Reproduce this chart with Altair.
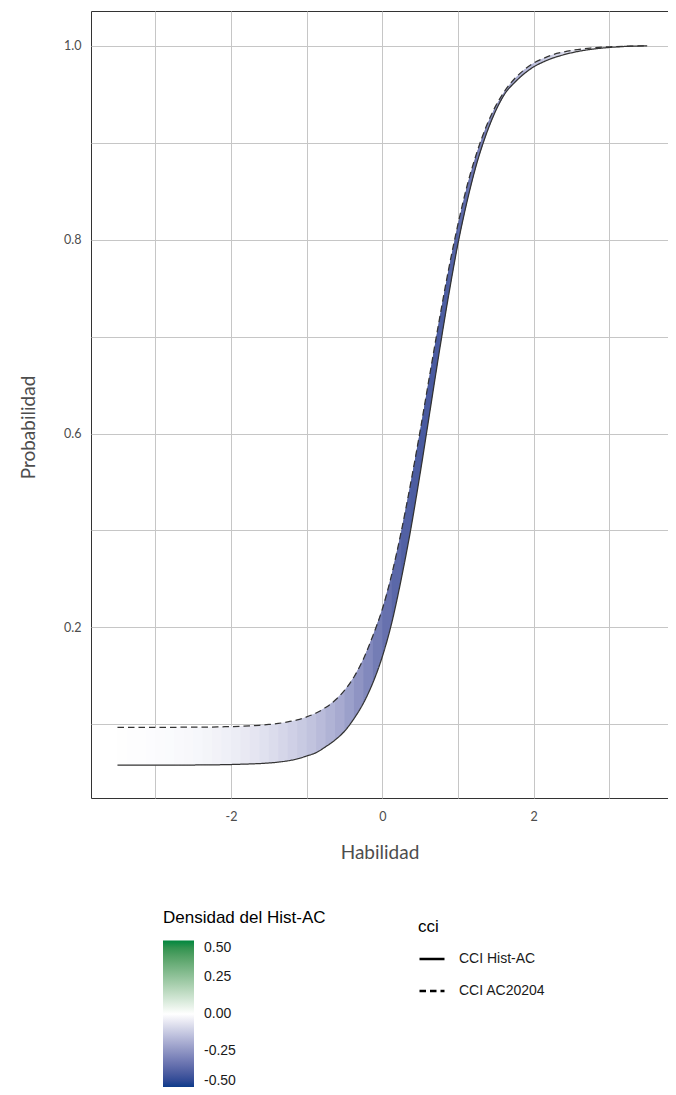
import altair as alt
import pandas as pd

# Habilidad (theta) grid
THETA = [-3.5, -3.375, -3.25, -3.125, -3.0, -2.875, -2.75, -2.625, -2.5, -2.375, -2.25,
         -2.125, -2.0, -1.875, -1.75, -1.625, -1.5, -1.375, -1.25, -1.125, -1.0,
         -0.875, -0.75, -0.625, -0.5, -0.375, -0.25, -0.125, 0.0, 0.125, 0.25,
         0.375, 0.5, 0.625, 0.75, 0.875, 1.0, 1.125, 1.25, 1.375, 1.5, 1.625,
         1.75, 1.875, 2.0, 2.125, 2.25, 2.375, 2.5, 2.75, 3.0, 3.25, 3.5]

# CCI Hist-AC (solid)
HIST = [0.258, 0.258, 0.258, 0.258, 0.258, 0.258, 0.258, 0.2581, 0.2582, 0.2583, 0.2584,
        0.2585, 0.2587, 0.2590, 0.2593, 0.2597, 0.2603, 0.2612, 0.2625, 0.2645, 0.2675,
        0.271, 0.277, 0.284, 0.293, 0.306, 0.322, 0.343, 0.370, 0.405, 0.450,
        0.501, 0.559, 0.621, 0.683, 0.742, 0.796, 0.841, 0.879, 0.909, 0.933, 0.951,
        0.962, 0.971, 0.978, 0.983, 0.987, 0.990, 0.9925, 0.996, 0.998, 0.9992, 0.9997]

# CCI AC20204 (dashed)
AC = [0.2970, 0.2970, 0.2970, 0.2970, 0.2971, 0.2971, 0.2971, 0.2972, 0.2972, 0.2973, 0.2974,
      0.2976, 0.2978, 0.2981, 0.2986, 0.2992, 0.3000, 0.3011, 0.3026, 0.3047, 0.3078,
      0.3118, 0.3174, 0.3249, 0.3351, 0.3490, 0.3675, 0.3915, 0.419, 0.455, 0.499,
      0.549, 0.603, 0.660, 0.716, 0.769, 0.816, 0.857, 0.890, 0.917, 0.938, 0.954,
      0.966, 0.975, 0.982, 0.9866, 0.9905, 0.9930, 0.995, 0.9974, 0.9987, 0.9993, 0.9996]

# Densidad del Hist-AC (fill colour between curves)
DENS = [-0.002, -0.003, -0.004, -0.005, -0.007, -0.009, -0.011, -0.014, -0.017, -0.021, -0.026,
        -0.032, -0.038, -0.046, -0.054, -0.064, -0.074, -0.087, -0.10, -0.115, -0.13,
        -0.148, -0.167, -0.188, -0.21, -0.24, -0.267, -0.298, -0.33, -0.358, -0.38,
        -0.395, -0.405, -0.41, -0.405, -0.395, -0.378, -0.355, -0.328, -0.297, -0.265, -0.233,
        -0.203, -0.176, -0.15, -0.127, -0.105, -0.087, -0.07, -0.045, -0.027, -0.015, -0.008]

SERIES = ["CCI Hist-AC", "CCI AC20204"]

X_GRID = [-3, -2, -1, 0, 1, 2, 3]
X_TICKS = [-2, 0, 2]
X_LABELS = ["-2", "0", "2"]
Y_GRID = [0.3, 0.4, 0.5, 0.6, 0.7, 0.8, 0.9, 1.0]
Y_TICKS = [0.4, 0.6, 0.8, 1.0]
Y_LABELS = ["0.2", "0.6", "0.8", "1.0"]
LEGEND_VALUES = [-0.5, -0.25, 0.0, 0.25, 0.5]

X_DOMAIN = [-3.85, 3.775]
Y_DOMAIN = [0.2242, 1.0356]

# ---- tables built from the arrays ----
# each band piece spans two intervals and is overdrawn by the next piece (no seams)
band_rows = []
n = len(THETA)
for i in range(n - 1):
    d = (DENS[i] + DENS[i + 1]) / 2
    for j in range(i, min(i + 3, n)):
        band_rows.append({"theta": THETA[j], "lo": HIST[j], "hi": AC[j], "dens": d,
                          "seg": f"s{i:03d}"})
band = pd.DataFrame(band_rows)

line_rows = []
for name, vals in zip(SERIES, [HIST, AC]):
    for t, v in zip(THETA, vals):
        line_rows.append({"theta": t, "p": v, "cci": name})
lines_df = pd.DataFrame(line_rows)


def label_expr(values, labels):
    expr = "''"
    for v, l in reversed(list(zip(values, labels))):
        expr = f"abs(datum.value - ({v})) < 1e-6 ? '{l}' : " + expr
    return expr


AX_FONT = "Lato"
AX_COLOR = "#4d4d4d"

x_axis = alt.Axis(values=X_GRID, labelExpr=label_expr(X_TICKS, X_LABELS), title="Habilidad",
                  grid=True, gridColor="#c6c6c6", gridWidth=1, ticks=False, tickSize=0,
                  domain=False, labelFont=AX_FONT, labelFontSize=12.5, labelColor=AX_COLOR,
                  labelPadding=12, labelBaseline="top",
                  titleFont=AX_FONT, titleFontSize=19, titleFontWeight="normal",
                  titleColor=AX_COLOR, titleY=54, titleBaseline="middle")
y_axis = alt.Axis(values=Y_GRID, labelExpr=label_expr(Y_TICKS, Y_LABELS), title="Probabilidad",
                  grid=True, gridColor="#c6c6c6", gridWidth=1, ticks=False, tickSize=0,
                  domain=False, labelFont=AX_FONT, labelFontSize=12.5, labelColor=AX_COLOR,
                  labelPadding=10, titleFont=AX_FONT, titleFontSize=19,
                  titleFontWeight="normal", titleColor=AX_COLOR, titleX=-63, titleY=416,
                  titleBaseline="middle", titleAlign="center", titleAngle=270)

x_scale = alt.Scale(domain=X_DOMAIN, nice=False, zero=False)
y_scale = alt.Scale(domain=Y_DOMAIN, nice=False, zero=False)

color_scale = alt.Scale(domain=[-0.5, 0.0, 0.5], range=["#0a3a8a", "#ffffff", "#00873e"],
                        interpolate="lab")

area = alt.Chart(band).mark_area(interpolate="linear").encode(
    x=alt.X("theta:Q", scale=x_scale, axis=x_axis),
    y=alt.Y("lo:Q", scale=y_scale, axis=y_axis),
    y2="hi:Q",
    detail="seg:O",
    color=alt.Color("dens:Q", scale=color_scale,
                    legend=alt.Legend(type="gradient", title="Densidad del Hist-AC",
                                      orient="none", legendX=72, legendY=899,
                                      direction="vertical",
                                      gradientLength=147, gradientThickness=31,
                                      gradientStrokeWidth=0, values=LEGEND_VALUES,
                                      labelExpr="replace(format(datum.value, '.2f'), '\u2212', '-')",
                                      titleFont="Liberation Sans", titleFontSize=17,
                                      titleFontWeight="normal", titleColor="#000000",
                                      labelFont="Liberation Sans", labelFontSize=14,
                                      labelColor="#1a1a1a", labelOffset=10,
                                      titlePadding=13.5, padding=0)),
)

lines = alt.Chart(lines_df).mark_line(interpolate="monotone", color="#333333",
                                      strokeWidth=1.25).encode(
    x=alt.X("theta:Q", scale=x_scale, axis=x_axis),
    y=alt.Y("p:Q", scale=y_scale, axis=y_axis),
    strokeDash=alt.StrokeDash("cci:N",
                              scale=alt.Scale(domain=SERIES, range=[[1, 0], [6.5, 4]]),
                              legend=alt.Legend(title="cci", orient="none", legendX=327,
                                                legendY=908, symbolType="stroke",
                                                symbolSize=625, symbolStrokeWidth=2.6,
                                                symbolStrokeColor="#000000",
                                                titleFont="Liberation Sans", titleFontSize=17,
                                                titleFontWeight="normal", titleColor="#000000",
                                                labelFont="Liberation Sans", labelFontSize=14,
                                                labelColor="#1a1a1a", labelOffset=13,
                                                clipHeight=30, rowPadding=2, padding=0,
                                                titlePadding=8)),
)

chart = alt.layer(area, lines).properties(
    width=577, height=787,
    padding={"left": 83, "top": 3, "right": 0, "bottom": 289},
    autosize=alt.AutoSizeParams(type="none"),
    background="white",
).configure_view(stroke="#333333", strokeWidth=1, fill="white")

chart.save("out.html", embed_options={"renderer": "svg", "actions": False})
